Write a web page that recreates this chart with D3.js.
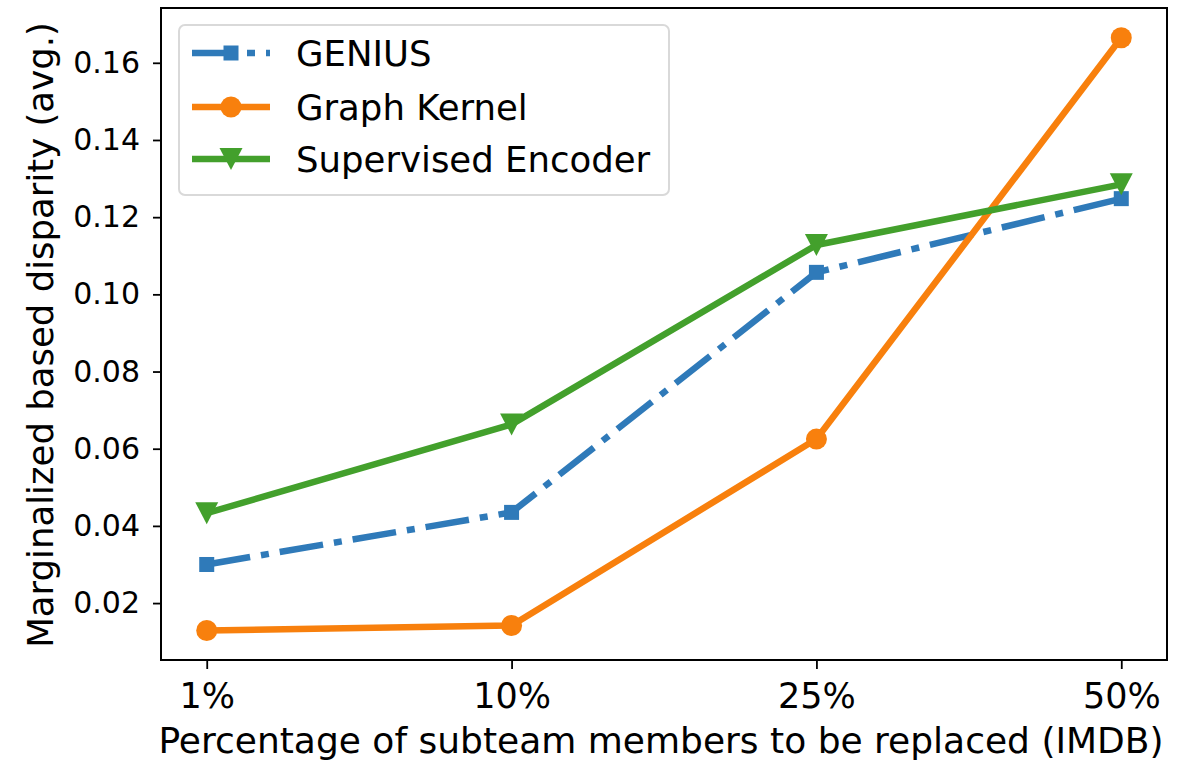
<!DOCTYPE html>
<html>
<head>
<meta charset="utf-8">
<script src="https://cdn.jsdelivr.net/npm/d3@7/dist/d3.min.js"></script>
<style>
  body { margin: 0; background: #fff; }
  svg text { font-family: "DejaVu Sans", sans-serif; fill: #000; }
</style>
</head>
<body>
<svg id="chart" width="1182" height="765"></svg>
<script>
// data
const categories = ['1%', '10%', '25%', '50%'];
const geniusValues = [0.0300, 0.0435, 0.1057, 0.1248];
const kernelValues = [0.0129, 0.0142, 0.0625, 0.1665];
const encoderValues = [0.0433, 0.0663, 0.1128, 0.1285];
const yTicks = [0.02, 0.04, 0.06, 0.08, 0.10, 0.12, 0.14, 0.16];

const series = [
  { name: 'GENIUS', values: geniusValues, color: '#2f7ab9', marker: 'square', dash: '44,11,8,11' },
  { name: 'Graph Kernel', values: kernelValues, color: '#f8800d', marker: 'circle', dash: null },
  { name: 'Supervised Encoder', values: encoderValues, color: '#43a02c', marker: 'triangle', dash: null }
];

const plot = { left: 161, right: 1167, top: 8, bottom: 660 };
const svg = d3.select('#chart');

const x = d3.scalePoint()
  .domain(categories)
  .range([plot.left, plot.right])
  .padding(0.15);

const y = d3.scaleLinear()
  .domain([0.00525, 0.1742])
  .range([plot.bottom, plot.top]);

// axes
const xAxis = svg.append('g')
  .attr('transform', `translate(0,${plot.bottom})`)
  .call(d3.axisBottom(x).tickSize(9).tickPadding(14));
xAxis.selectAll('.tick text').attr('font-size', 35);

const yAxis = svg.append('g')
  .attr('transform', `translate(${plot.left},0)`)
  .call(d3.axisLeft(y).tickValues(yTicks).tickFormat(d3.format('.2f')).tickSize(8).tickPadding(13));
yAxis.selectAll('.tick text').attr('font-size', 30);

[xAxis, yAxis].forEach(ax => {
  ax.select('.domain').remove();
  ax.selectAll('.tick line').attr('stroke', '#000').attr('stroke-width', 1.8);
  ax.selectAll('.tick text').attr('font-family', 'DejaVu Sans');
});

// lines and markers
const line = d3.line()
  .x((d, i) => x(categories[i]))
  .y(d => y(d));

function drawMarker(g, type, cx, cy, color) {
  if (type === 'square') {
    g.append('rect')
      .attr('x', cx - 7.5).attr('y', cy - 7.5)
      .attr('width', 15).attr('height', 15)
      .attr('fill', color);
  } else if (type === 'circle') {
    g.append('circle')
      .attr('cx', cx).attr('cy', cy).attr('r', 10.5)
      .attr('fill', color);
  } else {
    g.append('path')
      .attr('d', `M${cx - 11.5},${cy - 11} L${cx + 11.5},${cy - 11} L${cx},${cy + 11} Z`)
      .attr('fill', color);
  }
}

series.forEach(s => {
  const g = svg.append('g');
  g.append('path')
    .datum(s.values)
    .attr('d', line)
    .attr('fill', 'none')
    .attr('stroke', s.color)
    .attr('stroke-width', 6.5)
    .attr('stroke-dasharray', s.dash)
    .attr('stroke-linejoin', 'round')
    .attr('stroke-linecap', s.dash ? 'butt' : 'round');
  s.values.forEach((v, i) => drawMarker(g, s.marker, x(categories[i]), y(v), s.color));
});

// frame
svg.append('rect')
  .attr('x', plot.left).attr('y', plot.top)
  .attr('width', plot.right - plot.left)
  .attr('height', plot.bottom - plot.top)
  .attr('fill', 'none')
  .attr('stroke', '#000')
  .attr('stroke-width', 2);

// legend
const legend = svg.append('g');
legend.append('rect')
  .attr('x', 179).attr('y', 25)
  .attr('width', 490).attr('height', 170)
  .attr('rx', 6)
  .attr('fill', '#fff')
  .attr('fill-opacity', 0.8)
  .attr('stroke', '#d9d9d9')
  .attr('stroke-width', 2);

const legendRows = [53, 107, 159];
series.forEach((s, i) => {
  const ly = legendRows[i];
  legend.append('line')
    .attr('x1', 192).attr('x2', 270)
    .attr('y1', ly).attr('y2', ly)
    .attr('stroke', s.color)
    .attr('stroke-width', 6.5)
    .attr('stroke-dasharray', s.dash);
  drawMarker(legend, s.marker, 231, ly, s.color);
  legend.append('text')
    .attr('x', 296).attr('y', ly + 13)
    .attr('font-size', 35.5)
    .text(s.name);
});

// axis titles
svg.append('text')
  .attr('x', 661)
  .attr('y', 753)
  .attr('text-anchor', 'middle')
  .attr('font-size', 36)
  .text('Percentage of subteam members to be replaced (IMDB)');

svg.append('text')
  .attr('transform', `translate(53,${(22 + 648) / 2}) rotate(-90)`)
  .attr('text-anchor', 'middle')
  .attr('font-size', 35.5)
  .text('Marginalized based disparity (avg.)');
</script>
</body>
</html>
